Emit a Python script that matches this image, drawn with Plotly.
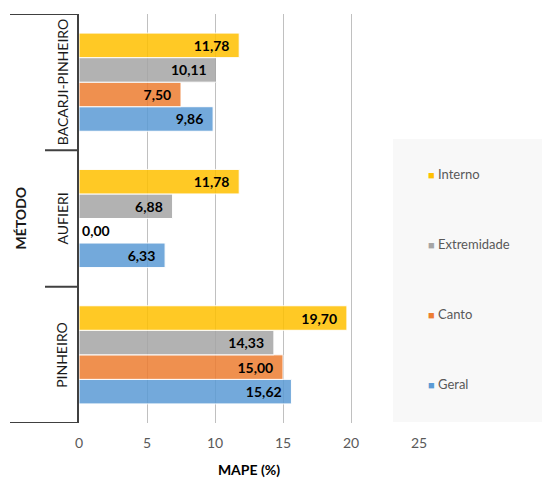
import plotly.graph_objects as go

metodos = ["PINHEIRO", "AUFIERI", "BACARJI-PINHEIRO"]
series_names = ["Geral", "Canto", "Extremidade", "Interno"]
geral = [15.62, 6.33, 9.86]
canto = [15.00, 0.00, 7.50]
extremidade = [14.33, 6.88, 10.11]
interno = [19.70, 11.78, 11.78]
series_values = [geral, canto, extremidade, interno]
colors = ["#5B9BD5", "#ED7D31", "#A5A5A5", "#FFC000"]
x_ticks = [0, 5, 10, 15, 20, 25]

FONT = "Lato"
W, H = 542, 482
L, R, T, B = 79, 123, 14, 59
pw, ph = W - L - R, H - T - B

def px_x(p):
    return (p - L) / pw

def px_y(p):
    return (H - B - p) / ph

lab_font = dict(family=FONT, size=14, color="black", weight="bold")

fig = go.Figure()
for name, vals, col in zip(series_names, series_values, colors):
    texts = [(f"{v:.2f}".replace(".", ",") + "\u00a0\u00a0") if v > 0
             else f"{v:.2f}".replace(".", ",") for v in vals]
    pos = ["inside" if v > 0 else "outside" for v in vals]
    fig.add_trace(go.Bar(
        y=metodos, x=vals, orientation="h", name=name,
        marker=dict(color=col, opacity=0.85, line=dict(color="white", width=1)),
        text=texts, textposition=pos, insidetextanchor="end",
        textfont=lab_font, insidetextfont=lab_font, outsidetextfont=lab_font,
        cliponaxis=False, showlegend=False,
    ))

# legend entries (small colored squares), listed top to bottom
for name, col in reversed(list(zip(series_names, colors))):
    fig.add_trace(go.Scatter(
        x=[None], y=[None], mode="markers",
        name=f'<span style="color:{col};font-size:11px">■</span> {name}',
        marker=dict(symbol="square", size=1, color="rgba(0,0,0,0)"),
        legendgroup=name, showlegend=True,
    ))

shapes = []
# legend background
shapes.append(dict(type="rect", xref="paper", yref="paper",
                   x0=px_x(393), x1=px_x(542), y0=px_y(422), y1=px_y(139),
                   fillcolor="#F8F8F8", line=dict(width=0), layer="below"))
# category separators
for yb, x0p in [(-0.5, 10), (0.5, 45), (1.5, 45), (2.5, 10)]:
    shapes.append(dict(type="line", xref="paper", yref="y",
                       x0=px_x(x0p), x1=0, y0=yb, y1=yb,
                       line=dict(color="#404040", width=2)))

annotations = []
for m in metodos:
    annotations.append(dict(x=px_x(62), y=m, xref="paper", yref="y",
                            xanchor="center", yanchor="middle",
                            text=m, showarrow=False, textangle=-90,
                            font=dict(family=FONT, size=14, color="#1a1a1a")))
annotations.append(dict(x=px_x(20), y=0.5, xref="paper", yref="paper",
                        xanchor="center", yanchor="middle",
                        text="<b>MÉTODO</b>", showarrow=False, textangle=-90,
                        font=dict(family=FONT, size=14, color="#1a1a1a")))

fig.update_layout(
    width=W, height=H,
    margin=dict(l=L, r=R, t=T, b=B, autoexpand=False),
    paper_bgcolor="white", plot_bgcolor="rgba(0,0,0,0)",
    barmode="group", bargap=0.28, bargroupgap=0,
    font=dict(family=FONT),
    shapes=shapes, annotations=annotations,
    legend=dict(traceorder="grouped", x=px_x(388), xanchor="left",
                y=px_y(159), yanchor="top", bgcolor="rgba(0,0,0,0)",
                tracegroupgap=50, itemwidth=30,
                font=dict(family=FONT, size=13, color="#595959")),
    xaxis=dict(range=[0, 25], tickvals=x_ticks, ticktext=[str(t) for t in x_ticks],
               showgrid=True, gridcolor="#C0C0C0", gridwidth=1,
               zeroline=False, showline=False, ticks="", automargin=False,
               ticklabelstandoff=10,
               tickfont=dict(family=FONT, size=14, color="#595959"),
               title=dict(text="<b>MAPE (%)</b>", standoff=15,
                          font=dict(family=FONT, size=14, color="black"))),
    yaxis=dict(categoryorder="array", categoryarray=metodos, automargin=False,
               range=[-0.5, 2.5], showticklabels=False, showgrid=False,
               zeroline=False, showline=True, linecolor="#404040", linewidth=2,
               ticks=""),
)

fig.write_html("out.html")
